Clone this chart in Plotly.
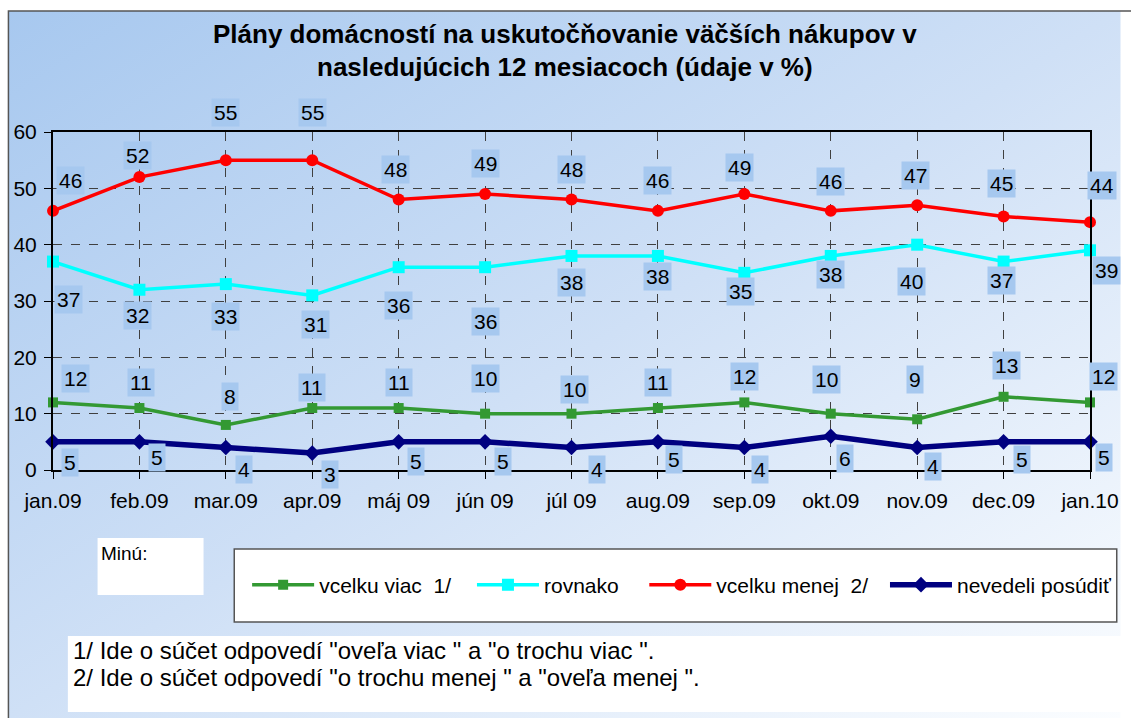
import base64
import plotly.graph_objects as go

# ---------------- data ----------------
months = ["jan.09", "feb.09", "mar.09", "apr.09", "máj 09", "jún 09", "júl 09",
          "aug.09", "sep.09", "okt.09", "nov.09", "dec.09", "jan.10"]
vcelku_viac = [12, 11, 8, 11, 11, 10, 10, 11, 12, 10, 9, 13, 12]
rovnako = [37, 32, 33, 31, 36, 36, 38, 38, 35, 38, 40, 37, 39]
vcelku_menej = [46, 52, 55, 55, 48, 49, 48, 46, 49, 46, 47, 45, 44]
nevedeli = [5, 5, 4, 3, 5, 5, 4, 5, 4, 6, 4, 5, 5]
y_ticks = [0, 10, 20, 30, 40, 50, 60]

title_lines = ["Plány domácností na uskutočňovanie väčších nákupov v",
               "nasledujúcich 12 mesiacoch (údaje v %)"]
note1 = "1/ Ide o súčet odpovedí \"oveľa viac \" a \"o trochu viac \"."
note2 = "2/ Ide o súčet odpovedí \"o trochu menej \" a \"oveľa menej \"."
minus_label = "Minú:"

# ---------------- layout geometry (pixels) ----------------
W, H = 1131, 718
ML, MR, MT, MB = 53, 31, 132, 248
PW = W - ML - MR
PH = H - MT - MB


def px(x):
    return (x - ML) / PW


def py(y):
    return (H - MB - y) / PH


FONT = "Liberation Sans, Arial, sans-serif"
LABEL_BG = "#a6c8ef"

x_idx = list(range(len(months)))

series = [
    dict(name="vcelku viac  1/", y=vcelku_viac, color="#339933", width=3.5,
         symbol="square", size=10, legend="legend", lx=253,
         dx=[22, 2, 4, 0, 0, 0, 3, 0, 0, -4, -2, 3, 13],
         dy=[24, 26, 28, 21, 26, 35, 24, 26, 26, 34, 40, 31, 26]),
    dict(name="rovnako", y=rovnako, color="#00ffff", width=3.5,
         symbol="square", size=12, legend="legend2", lx=480,
         dx=[15, -2, 0, 3, 0, 0, 0, 0, -4, 0, -6, -2, 16],
         dy=[-38, -26, -32, -29, -38, -54, -27, -21, -19, -19, -37, -19, -20]),
    dict(name="vcelku menej  2/", y=vcelku_menej, color="#ff0000", width=3.5,
         symbol="circle", size=12, legend="legend3", lx=654,
         dx=[17, -2, 0, 0, -3, 0, 0, 0, -5, 0, -2, -2, 12],
         dy=[30, 22, 48, 48, 30, 30, 30, 30, 26, 29, 30, 33, 37]),
    dict(name="nevedeli posúdiť", y=nevedeli, color="#000080", width=5.5,
         symbol="diamond", size=12, legend="legend4", lx=897,
         dx=[17, 18, 18, 18, 17, 18, 25, 16, 16, 14, 16, 18, 14],
         dy=[-21, -16, -22, -21, -20, -20, -22, -18, -22, -22, -19, -18, -16]),
]

fig = go.Figure()
annotations = []
legends = {}
for s in series:
    fig.add_trace(go.Scatter(
        x=x_idx, y=s["y"], name=s["name"], mode="lines+markers",
        line=dict(color=s["color"], width=s["width"]),
        marker=dict(symbol=s["symbol"], size=s["size"], color=s["color"]),
        cliponaxis=False, legend=s["legend"],
    ))
    legends[s["legend"]] = dict(
        orientation="h", x=px(s["lx"] - 4), y=py(585), xanchor="left", yanchor="middle",
        bgcolor="rgba(0,0,0,0)", borderwidth=0,
        font=dict(family=FONT, size=21, color="black"), itemwidth=62,
    )
    for i, v in enumerate(s["y"]):
        annotations.append(dict(
            x=i, y=v, xref="x", yref="y", text=str(v), showarrow=False,
            xshift=s["dx"][i], yshift=s["dy"][i],
            font=dict(family=FONT, size=21, color="black"),
            bgcolor=LABEL_BG, borderpad=2,
        ))

# title
for line, ypix in zip(title_lines, [34, 67]):
    annotations.append(dict(
        x=px(570), y=py(ypix), xref="paper", yref="paper", text="<b>" + line + "</b>",
        showarrow=False, font=dict(family=FONT, size=26, color="black"),
        xanchor="center", yanchor="middle",
    ))
# Minú:
annotations.append(dict(
    x=px(99), y=py(541), xref="paper", yref="paper", text=minus_label,
    showarrow=False, font=dict(family=FONT, size=19, color="black"),
    xanchor="left", yanchor="top",
))
# footnotes
for note, ypix in [(note1, 650), (note2, 677)]:
    annotations.append(dict(
        x=px(71), y=py(ypix), xref="paper", yref="paper", text=note,
        showarrow=False, font=dict(family=FONT, size=24, color="black"),
        xanchor="left", yanchor="middle",
    ))

shapes = [
    # outer frame
    dict(type="rect", xref="paper", yref="paper", x0=px(8), x1=px(1145), y0=py(11), y1=py(735),
         line=dict(color="#555555", width=1.5), fillcolor="rgba(0,0,0,0)", layer="above"),
    # Minú box
    dict(type="rect", xref="paper", yref="paper", x0=px(98), x1=px(205), y0=py(538), y1=py(595),
         line=dict(width=0), fillcolor="white", layer="above"),
    # legend box
    dict(type="rect", xref="paper", yref="paper", x0=px(236), x1=px(1127), y0=py(549), y1=py(622),
         line=dict(color="#555555", width=1.5), fillcolor="white", layer="above"),
    # footnote box
    dict(type="rect", xref="paper", yref="paper", x0=px(68), x1=px(1140), y0=py(636), y1=py(712),
         line=dict(width=0), fillcolor="white", layer="above"),
]

svg = (
    "<svg xmlns='http://www.w3.org/2000/svg' width='1131' height='718' preserveAspectRatio='none'>"
    "<defs><linearGradient id='g' x1='0' y1='0' x2='1' y2='1'>"
    "<stop offset='0' stop-color='#a7c8ef'/>"
    "<stop offset='0.5' stop-color='#cfe0f6'/>"
    "<stop offset='1' stop-color='#fbfdff'/>"
    "</linearGradient></defs>"
    "<rect width='1131' height='718' fill='url(#g)'/></svg>"
)
src = "data:image/svg+xml;base64," + base64.b64encode(svg.encode()).decode()

axis_common = dict(
    showgrid=True, gridcolor="#404040", griddash="dash", gridwidth=1,
    showline=True, linecolor="black", linewidth=2, mirror=True,
    ticks="outside", ticklen=7, tickcolor="black",
    tickfont=dict(family=FONT, size=21, color="black"), zeroline=False,
)

fig.update_layout(
    width=W, height=H,
    margin=dict(l=ML, r=MR, t=MT, b=MB),
    paper_bgcolor="white",
    plot_bgcolor="rgba(0,0,0,0)",
    images=[dict(source=src, xref="paper", yref="paper", x=px(8), y=py(11),
                 sizex=(W - 8) / PW, sizey=(H - 11) / PH, sizing="stretch",
                 xanchor="left", yanchor="top", layer="below")],
    xaxis=dict(tickmode="array", tickvals=x_idx, ticktext=months,
               range=[0, len(months) - 1], ticklabelstandoff=4, **axis_common),
    yaxis=dict(tickmode="array", tickvals=y_ticks, range=[0, 60],
               ticklabelstandoff=3, **axis_common),
    showlegend=True,
    annotations=annotations,
    shapes=shapes,
    **legends,
)

fig.write_html("out.html", config={"displayModeBar": False},
               post_script="document.body.style.margin='0';document.body.style.overflow='hidden';")
